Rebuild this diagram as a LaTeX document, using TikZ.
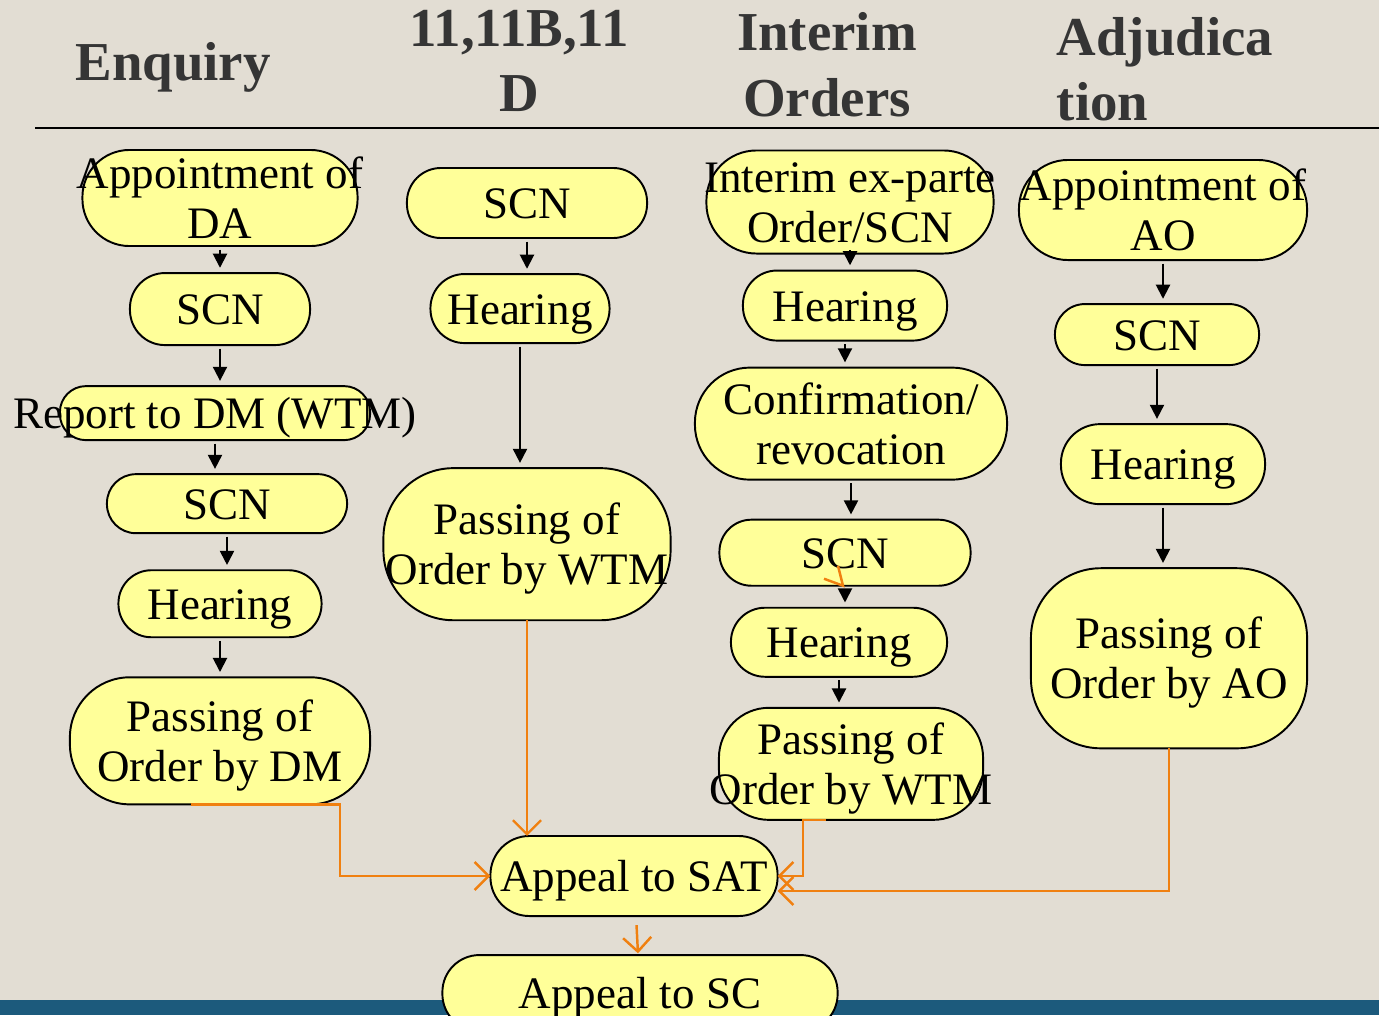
\documentclass[tikz,border=0pt]{standalone}
\usepackage{fontspec}
\setmainfont{Liberation Serif}
\usetikzlibrary{positioning,arrows.meta}

\definecolor{paper}{HTML}{E2DDD3}
\definecolor{pillfill}{HTML}{FFFF99}
\definecolor{linkorange}{HTML}{F08010}
\definecolor{footbar}{HTML}{1C5A7C}
\definecolor{headgray}{HTML}{353535}

\newcommand{\pilltext}[2][c]{\makebox[0pt]{\smash{\raisebox{-4.6pt}{\begin{tabular}{@{}#1@{}}#2\end{tabular}}}}}

\begin{document}
\begin{tikzpicture}[
    x=0.01cm, y=-0.01cm,
    pill/.style={rectangle, draw=black, line width=0.55pt, fill=pillfill, rounded corners=#1, inner sep=0pt, outer sep=0pt, font=\fontsize{12.8}{14.2}\selectfont},
    pill/.default=0.34cm,
    head/.style={inner sep=0pt, text=headgray, font=\fontsize{15.6}{18.5}\selectfont\bfseries},
    arrow/.style={-{Triangle[length=4pt,width=4pt]}, line width=0.55pt, shorten <=1pt, shorten >=1.5pt},
    appeal/.style={-{Straight Barb[length=4pt,width=8pt]}, draw=linkorange, line width=0.7pt}
]

\useasboundingbox (0,0) rectangle (1379,1015);
\fill[paper] (0,0) rectangle (1379,1015);
\fill[footbar] (0,1000) rectangle (1379,1015);

% headings
\node[head] (enquiry) at (173,64) {\pilltext{Enquiry}};
\node[head] (sections) at (519,62) {\pilltext{11,11B,11\\D}};
\node[head] (interim) at (827,67) {\pilltext{Interim\\Orders}};
\node[head] (adjud) at (1165,71) {\pilltext[l]{Adjudica\\tion}};
\draw[line width=0.6pt] (35,128) -- (1379,128);

% Enquiry column
\node[pill=0.47cm, minimum width=2.75cm, minimum height=0.96cm] (da) at (220,198) {\pilltext{Appointment of\\DA}};
\node[pill=0.35cm, minimum width=1.80cm, minimum height=0.72cm, below=0.27cm of da] (scn1) {\pilltext{SCN}};
\node[pill=0.26cm, minimum width=3.10cm, minimum height=0.54cm, below=0.41cm of scn1, xshift=-0.05cm] (rep) {\pilltext{Report to DM (WTM)}};
\node[pill=0.29cm, minimum width=2.40cm, minimum height=0.59cm, below=0.34cm of rep, xshift=0.12cm] (scn2) {\pilltext{SCN}};
\node[pill=0.33cm, minimum width=2.03cm, minimum height=0.67cm, below=0.37cm of scn2, xshift=-0.07cm] (hear1) {\pilltext{Hearing}};
\node[pill=0.6cm, minimum width=3.00cm, minimum height=1.27cm, below=0.40cm of hear1] (dm) {\pilltext{Passing of\\Order by DM}};

% 11,11B,11D column
\node[pill, minimum width=2.40cm, minimum height=0.70cm] (scn5) at (527,203) {\pilltext{SCN}};
\node[pill, minimum width=1.79cm, minimum height=0.69cm, below=0.36cm of scn5, xshift=-0.07cm] (hear2) {\pilltext{Hearing}};
\node[pill=0.7cm, minimum width=2.87cm, minimum height=1.52cm, below=1.25cm of hear2, xshift=0.07cm] (wtm1) {\pilltext{Passing of\\Order by WTM}};

% Interim orders column
\node[pill=0.5cm, minimum width=2.87cm, minimum height=1.03cm] (exparte) at (850,202) {\pilltext{Interim ex-parte\\Order/SCN}};
\node[pill, minimum width=2.04cm, minimum height=0.70cm, below=0.17cm of exparte, xshift=-0.05cm] (hear3) {\pilltext{Hearing}};
\node[pill=0.55cm, minimum width=3.12cm, minimum height=1.12cm, below=0.27cm of hear3, xshift=0.06cm] (conf) {\pilltext{Confirmation/\\revocation}};
\node[pill=0.32cm, minimum width=2.51cm, minimum height=0.66cm, below=0.40cm of conf, xshift=-0.06cm] (scn3) {\pilltext{SCN}};
\node[pill, minimum width=2.16cm, minimum height=0.69cm, below=0.22cm of scn3, xshift=-0.06cm] (hear4) {\pilltext{Hearing}};
\node[pill=0.5cm, minimum width=2.64cm, minimum height=1.12cm, below=0.31cm of hear4, xshift=0.12cm] (wtm2) {\pilltext{Passing of\\Order by WTM}};

% Adjudication column
\node[pill=0.49cm, minimum width=2.88cm, minimum height=1.00cm] (ao) at (1163,210) {\pilltext{Appointment of\\AO}};
\node[pill=0.3cm, minimum width=2.04cm, minimum height=0.61cm, below=0.44cm of ao, xshift=-0.06cm] (scn4) {\pilltext{SCN}};
\node[pill=0.39cm, minimum width=2.04cm, minimum height=0.80cm, below=0.59cm of scn4, xshift=0.06cm] (hear5) {\pilltext{Hearing}};
\node[pill=0.7cm, minimum width=2.76cm, minimum height=1.80cm, below=0.64cm of hear5, xshift=0.06cm] (aoorder) {\pilltext{Passing of\\Order by AO}};

% Appeals
\node[pill=0.39cm, minimum width=2.87cm, minimum height=0.80cm] (sat) at (634,876) {\pilltext{Appeal to SAT}};
\node[pill=0.37cm, minimum width=3.95cm, minimum height=0.76cm, below=0.39cm of sat, xshift=0.06cm] (sc) {\pilltext{Appeal to SC}};

% Arrows
\draw[arrow] (da) -- (da |- scn1.north);
\draw[arrow] (scn1) -- (scn1 |- rep.north);
\draw[arrow] (rep) -- (rep |- scn2.north);
\draw[arrow] (scn2) -- (scn2 |- hear1.north);
\draw[arrow] (hear1) -- (hear1 |- dm.north);
\draw[arrow] (scn5) -- (scn5 |- hear2.north);
\draw[arrow] (hear2) -- (hear2 |- wtm1.north);
\draw[arrow] (exparte) -- (exparte |- hear3.north);
\draw[arrow] (hear3) -- (hear3 |- conf.north);
\draw[arrow] (conf) -- (conf |- scn3.north);
\draw[arrow] (scn3) -- (scn3 |- hear4.north);
\draw[arrow] (hear4) -- (hear4 |- wtm2.north);
\draw[arrow] (ao) -- (ao |- scn4.north);
\draw[arrow] (scn4) -- (scn4 |- hear5.north);
\draw[arrow] (hear5) -- (hear5 |- aoorder.north);

% Appeal links
\draw[appeal] ([xshift=-0.29cm]dm.south) -- ++(149,0) |- (sat.west);
\draw[appeal] (wtm1) -- (wtm1 |- sat.north);
\draw[appeal] ([xshift=-0.25cm]wtm2.south) -- ++(-23,0) |- (sat.east);
\draw[appeal] (aoorder) |- ([yshift=-0.15cm]sat.east);
\draw[appeal, shorten <=2.6pt, shorten >=0.5pt] (sat) -- (sc);
\draw[linkorange, line width=0.7pt] ([shift={(-7,-20)}]scn3.south) -- ([xshift=-0.02cm]scn3.south) -- ([shift={(-21,-7)}]scn3.south);

\end{tikzpicture}
\end{document}
